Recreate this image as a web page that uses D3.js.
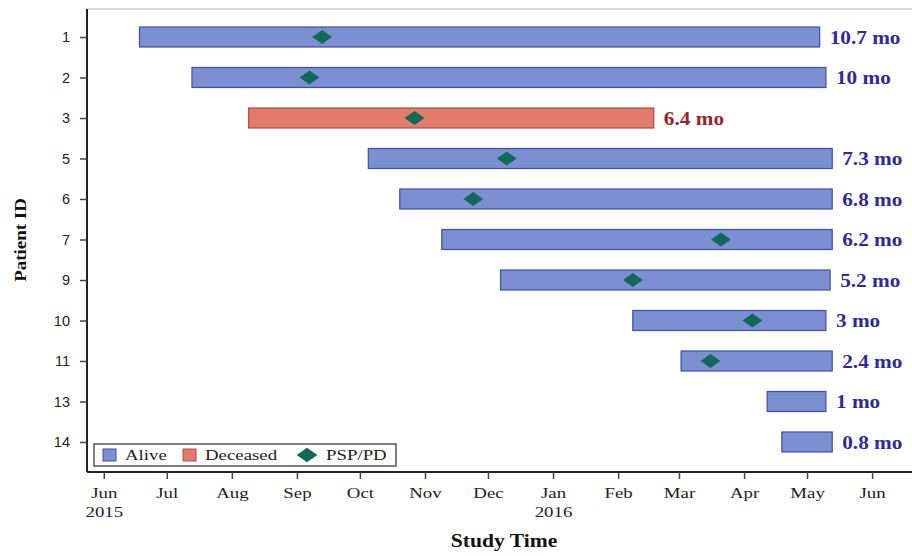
<!DOCTYPE html>
<html><head><meta charset="utf-8">
<script src="https://cdn.jsdelivr.net/npm/d3@7"></script>
<style>body{margin:0;background:#fff}svg{display:block}</style>
</head><body>
<svg id="chart" width="912" height="556"></svg>
<script>
const patients = ["1","2","3","5","6","7","9","10","11","13","14"];
const starts = ["2015-06-18","2015-07-13","2015-08-09","2015-10-05","2015-10-20","2015-11-09","2015-12-07","2016-02-08","2016-03-02","2016-04-12","2016-04-19"];
const ends   = ["2016-05-07","2016-05-10","2016-02-18","2016-05-13","2016-05-13","2016-05-13","2016-05-12","2016-05-10","2016-05-13","2016-05-10","2016-05-13"];
const status = ["Alive","Alive","Deceased","Alive","Alive","Alive","Alive","Alive","Alive","Alive","Alive"];
const durLabels = ["10.7 mo","10 mo","6.4 mo","7.3 mo","6.8 mo","6.2 mo","5.2 mo","3 mo","2.4 mo","1 mo","0.8 mo"];
const pdPatients = ["1","2","3","5","6","7","9","10","11"];
const pdDates = ["2015-09-13","2015-09-07","2015-10-27","2015-12-10","2015-11-24","2016-03-21","2016-02-08","2016-04-05","2016-03-16"];
const xTicks = ["2015-06-01","2015-07-01","2015-08-01","2015-09-01","2015-10-01","2015-11-01","2015-12-01","2016-01-01","2016-02-01","2016-03-01","2016-04-01","2016-05-01","2016-06-01"];
const legendItems = ["Alive","Deceased","PSP/PD"];

const parse = d3.utcParse("%Y-%m-%d");
const svg = d3.select("#chart");
const L = 87, T = 9, B = 472, R = 912;

const x = d3.scaleUtc()
  .domain([parse("2015-05-24"), parse("2016-06-20")])
  .range([L, R]);
const y = d3.scalePoint().domain(patients).range([37, 442]);

const fill = {Alive:"#7b8fd2", Deceased:"#e27b6b"};
const stroke = {Alive:"#3f4fa6", Deceased:"#b24d42"};
const txtCol = {Alive:"#2b2b9e", Deceased:"#a3202a"};
const diamondCol = "#0f6a58";
const serif = "'Liberation Serif','Times New Roman',serif";
const sans = "'Liberation Sans',Arial,sans-serif";

// stretched text helper
function stext(parent, tx, ty, sx, str) {
  const g = parent.append("g").attr("transform", `translate(${tx},${ty}) scale(${sx},1)`);
  return g.append("text").attr("x", 0).attr("y", 0).text(str);
}

// frame top
svg.append("line").attr("x1", L).attr("x2", R).attr("y1", T).attr("y2", T)
  .attr("stroke", "#c8c8c8").attr("stroke-width", 1.5);

const rows = patients.map((p, i) => ({p, s: parse(starts[i]), e: parse(ends[i]), st: status[i], lab: durLabels[i]}));
const bh = 20;
svg.append("g").selectAll("rect").data(rows).join("rect")
  .attr("x", d => x(d.s)).attr("y", d => y(d.p) - bh/2)
  .attr("width", d => x(d.e) - x(d.s)).attr("height", bh)
  .attr("fill", d => fill[d.st]).attr("stroke", d => stroke[d.st]).attr("stroke-width", 1.2);

const labG = svg.append("g");
rows.forEach(d => {
  stext(labG, x(d.e) + 10, y(d.p) + 6.5, 1.15, d.lab)
    .attr("font-family", serif).attr("font-weight", "bold").attr("font-size", 18.5)
    .attr("fill", txtCol[d.st]);
});

const pd = pdPatients.map((p, i) => ({p, d: parse(pdDates[i])}));
const dia = d3.symbol().type(d3.symbolDiamond2).size(190);
svg.append("g").selectAll("path").data(pd).join("path")
  .attr("d", dia).attr("transform", d => `translate(${x(d.d)},${y(d.p)}) scale(1.15,0.8)`)
  .attr("fill", diamondCol);

// y axis
const yAxis = svg.append("g").attr("transform", `translate(${L},0)`)
  .call(d3.axisLeft(y).tickSize(7).tickPadding(10));
yAxis.select(".domain").attr("d", `M0,${T}V${B}`).attr("stroke", "#222").attr("stroke-width", 2);
yAxis.selectAll(".tick line").attr("stroke", "#444").attr("stroke-width", 1.5);
yAxis.selectAll("text").attr("font-family", sans).attr("font-size", 14.5).attr("fill", "#222");

// x axis
const tickDates = xTicks.map(parse);
const fmtM = d3.utcFormat("%b"), fmtY = d3.utcFormat("%Y");
const xAxis = svg.append("g").attr("transform", `translate(0,${B})`)
  .call(d3.axisBottom(x).tickValues(tickDates).tickSize(7).tickFormat(""));
xAxis.select(".domain").attr("d", `M${L},0H${R}`).attr("stroke", "#222").attr("stroke-width", 2);
xAxis.selectAll(".tick line").attr("stroke", "#444").attr("stroke-width", 1.5);
xAxis.selectAll(".tick").each(function(d) {
  const g = d3.select(this).append("g").attr("transform", "scale(1.3,1)");
  const t = g.append("text").attr("fill", "#222").attr("font-family", serif).attr("font-size", 14.5)
    .attr("text-anchor", "middle").attr("y", 26);
  t.append("tspan").attr("x", 0).text(fmtM(d));
  if (d.getUTCMonth() === 0 || d.getTime() === tickDates[0].getTime())
    t.append("tspan").attr("x", 0).attr("dy", 19).text(fmtY(d));
});

// axis titles
stext(svg, 504, 547, 1.2, "Study Time").attr("text-anchor", "middle")
  .attr("font-family", serif).attr("font-weight", "bold").attr("font-size", 18).attr("fill", "#111");
svg.append("g").attr("transform", "translate(26,240) rotate(-90) scale(1.15,1)")
  .append("text").attr("text-anchor", "middle")
  .attr("font-family", serif).attr("font-weight", "bold").attr("font-size", 16.5).attr("fill", "#111")
  .text("Patient ID");

// legend
const lg = svg.append("g").attr("transform", "translate(94,444)");
lg.append("rect").attr("width", 302).attr("height", 22).attr("fill", "#fff")
  .attr("stroke", "#555").attr("stroke-width", 1.5);
const lx = [9, 89, 213];
legendItems.forEach((name, i) => {
  const g = lg.append("g").attr("transform", `translate(${lx[i]},11)`);
  if (i < 2) {
    g.append("rect").attr("x", 0).attr("y", -6).attr("width", 13).attr("height", 12)
      .attr("fill", fill[name]).attr("stroke", stroke[name]).attr("stroke-width", 1);
    stext(g, 22, 5, 1.3, name).attr("font-family", serif).attr("font-size", 14.5).attr("fill", "#222");
  } else {
    g.append("path").attr("d", dia).attr("transform", "scale(1.2,0.85)").attr("fill", diamondCol);
    stext(g, 19, 5, 1.3, name).attr("font-family", serif).attr("font-size", 14.5).attr("fill", "#222");
  }
});
</script>
</body></html>
